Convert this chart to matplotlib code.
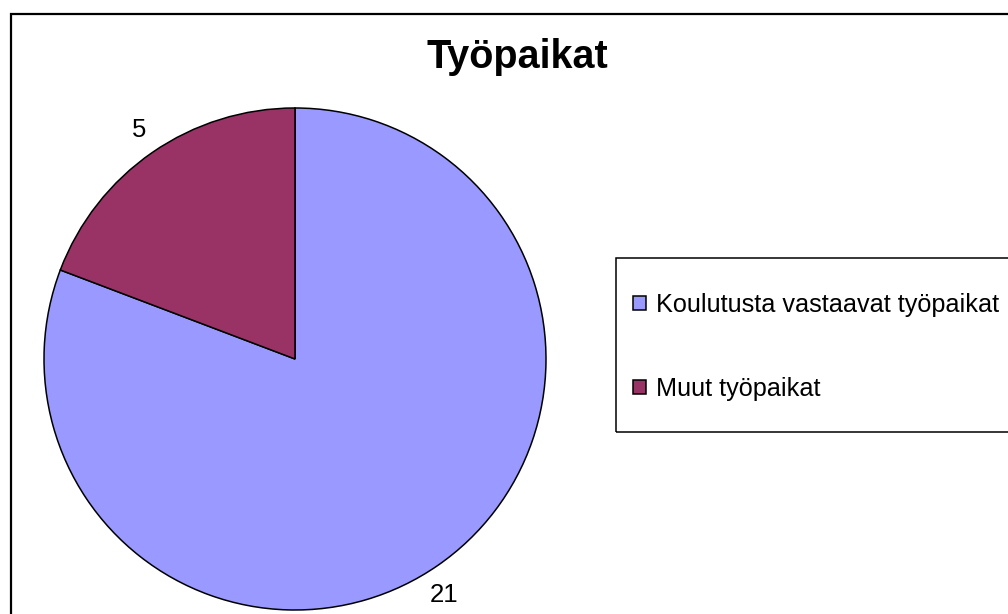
import matplotlib.pyplot as plt
from matplotlib.patches import Rectangle

plt.rcParams['font.family'] = ['Liberation Sans', 'DejaVu Sans']

title = "Työpaikat"
categories = ["Koulutusta vastaavat työpaikat", "Muut työpaikat"]
values = [21, 5]
colors = ["#9999FF", "#993366"]

W, H = 1008, 614
fig = plt.figure(figsize=(W / 100, H / 100), dpi=100)
# axes covering the whole figure, units = pixels (y up)
ax = fig.add_axes([0, 0, 1, 1])

wedges, texts = ax.pie(values, colors=colors, startangle=90, counterclock=False,
                       center=(295, H - 359), radius=251, frame=True,
                       labels=[str(v) for v in values], labeldistance=1.11,
                       wedgeprops=dict(edgecolor='black', linewidth=1.1),
                       textprops=dict(fontsize=18.5))
ax.set_xlim(0, W)
ax.set_ylim(0, H)
ax.set_aspect('equal')
ax.axis('off')

# excel-style "best fit" label spots
texts[0].set_position((430, H - 595))
texts[1].set_position((132, H - 130))

ax.text(517, H - 57, title, fontsize=28.5, fontweight='bold', ha='center', va='center')

# outer chart border (right/bottom run off the picture)
ax.add_patch(Rectangle((11, -20), W + 20, H - 14 + 20, fill=False,
                       edgecolor='black', linewidth=1.6, clip_on=False))

# legend box
ax.add_patch(Rectangle((616, H - 432), 420, 174, fill=False,
                       edgecolor='black', linewidth=1.1, clip_on=False))
leg = ax.legend(wedges, categories, loc='center left',
                bbox_to_anchor=(633 / W, (H - 347) / H), bbox_transform=fig.transFigure,
                frameon=False, fontsize=18.2, handlelength=0.5, handleheight=0.5,
                handletextpad=0.4, labelspacing=2.36, borderpad=0, borderaxespad=0)
for h in leg.legend_handles:
    h.set_linewidth(1.1)

fig.savefig("out.png", dpi=100)
